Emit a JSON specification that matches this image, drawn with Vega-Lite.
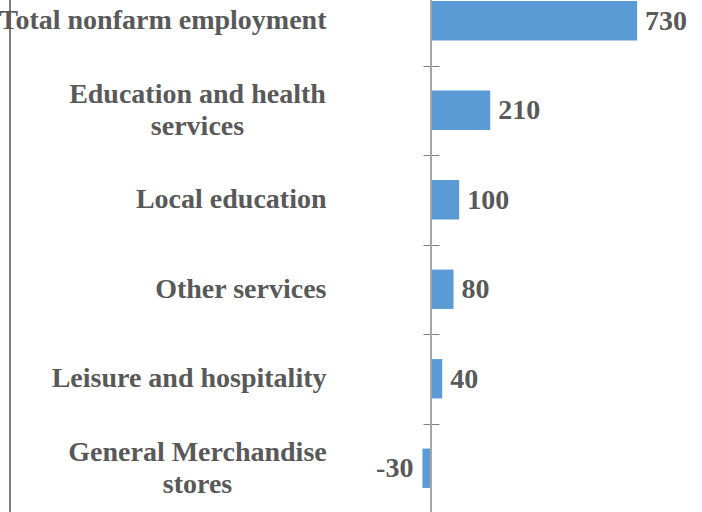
{
  "$schema": "https://vega.github.io/schema/vega-lite/v6.json",
  "autosize": {"type": "none"},
  "padding": {"left": 10, "top": -24, "right": 0, "bottom": 0},
  "width": 700,
  "height": 537,
  "background": "white",
  "config": {"view": {"stroke": "#7f7f7f", "strokeWidth": 2}},
  "data": {"values": [
    {"category": "Total nonfarm employment", "value": 730},
    {"category": "Education and health services", "value": 210},
    {"category": "Local education", "value": 100},
    {"category": "Other services", "value": 80},
    {"category": "Leisure and hospitality", "value": 40},
    {"category": "General Merchandise stores", "value": -30}
  ]},
  "encoding": {
    "y": {
      "field": "category", "type": "nominal", "sort": null,
      "scale": {"paddingInner": 0, "paddingOuter": 0},
      "axis": {
        "title": null, "domain": false, "grid": false,
        "offset": -429, "tickBand": "extent", "tickSize": 16, "tickColor": "#7f7f7f", "tickWidth": 1,
        "labelFont": "Liberation Serif", "labelFontWeight": "bold", "labelFontSize": 28, "labelColor": "#595959",
        "labelLineHeight": 32,
        "labelExpr": "datum.value == 'Education and health services' ? ['Education and health', 'services'] : datum.value == 'General Merchandise stores' ? ['General Merchandise', 'stores'] : datum.value",
        "labelAlign": {"condition": {"test": "datum.value == 'Education and health services' || datum.value == 'General Merchandise stores'", "value": "center"}, "value": "right"},
        "labelPadding": {"condition": {"test": "datum.value == 'Education and health services' || datum.value == 'General Merchandise stores'", "value": 226}, "value": 97},
        "labelOffset": {"condition": {"test": "datum.value == 'Education and health services' || datum.value == 'General Merchandise stores'", "value": -16}, "value": 0},
        "labelLimit": 0
      }
    },
    "x": {
      "field": "value", "type": "quantitative",
      "scale": {"domain": [-1490, 988], "nice": false, "zero": false},
      "axis": null
    }
  },
  "layer": [
    {"mark": {"type": "bar", "color": "#5B9BD5", "height": {"band": 0.44}}},
    {"mark": {"type": "rule", "color": "#a6a6a6", "strokeWidth": 1.3}, "encoding": {"x": {"datum": 0}, "y": null}},
    {
      "transform": [{"filter": "datum.value >= 0"}],
      "mark": {"type": "text", "align": "left", "dx": 8, "dy": 1, "font": "Liberation Serif", "fontWeight": "bold", "fontSize": 28, "color": "#595959"},
      "encoding": {"text": {"field": "value", "type": "nominal"}}
    },
    {
      "transform": [{"filter": "datum.value < 0"}],
      "mark": {"type": "text", "align": "right", "dx": -9, "dy": 1, "font": "Liberation Serif", "fontWeight": "bold", "fontSize": 28, "color": "#595959"},
      "encoding": {"text": {"field": "value", "type": "nominal"}}
    }
  ]
}
